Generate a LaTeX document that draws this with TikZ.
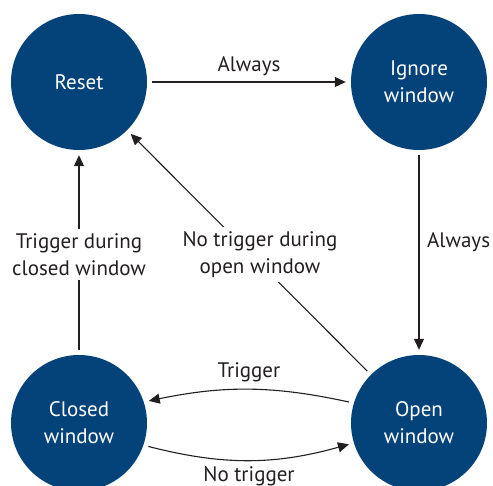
\documentclass[tikz,border=0pt]{standalone}
\usepackage{fontspec}
\setmainfont{PT Sans}
\usetikzlibrary{arrows.meta}
\definecolor{stateblue}{HTML}{03437A}
\definecolor{ink}{HTML}{231F20}
\begin{document}
\begin{tikzpicture}[x=1pt,y=1pt,
 state/.style={circle, fill=stateblue, minimum size=136pt, inner sep=0pt, text=white, align=center, font=\fontsize{21}{27}\selectfont},
 lbl/.style={text=ink, align=center, font=\fontsize{21}{27}\selectfont, inner sep=4pt},
 conn/.style={draw=ink, line width=1.1pt, -{Triangle[length=11pt,width=10pt]}, shorten >=5pt, shorten <=5pt}]
\useasboundingbox (0,0) rectangle (493,485);
\node[state] (reset) at (79,403) {Reset};
\node[state] (ignore) at (419,403) {Ignore\\window};
\node[state] (closed) at (79,62) {Closed\\window};
\node[state] (open) at (419,62) {Open\\window};

\draw[conn] (reset) -- node[lbl, above=2pt] {Always} (ignore);
\draw[conn] (ignore) -- (open);
\node[lbl, anchor=west] (alw) at (423,243) {Always};
\draw[conn] (closed) -- (reset);
\node[lbl, fill=white] (tdc) at (79,230.5) {Trigger during\\closed window};
\draw[conn] (open) -- (reset);
\node[lbl, fill=white] (ntd) at (260,230.5) {No trigger during\\open window};
\draw[conn] (open.163) to[bend right=12] (closed.18);
\node[lbl] (trg) at (249,113) {Trigger};
\draw[conn] (closed.-19) to[bend right=15] (open.197);
\node[lbl] (ntrg) at (249,9) {No trigger};
\end{tikzpicture}
\end{document}
